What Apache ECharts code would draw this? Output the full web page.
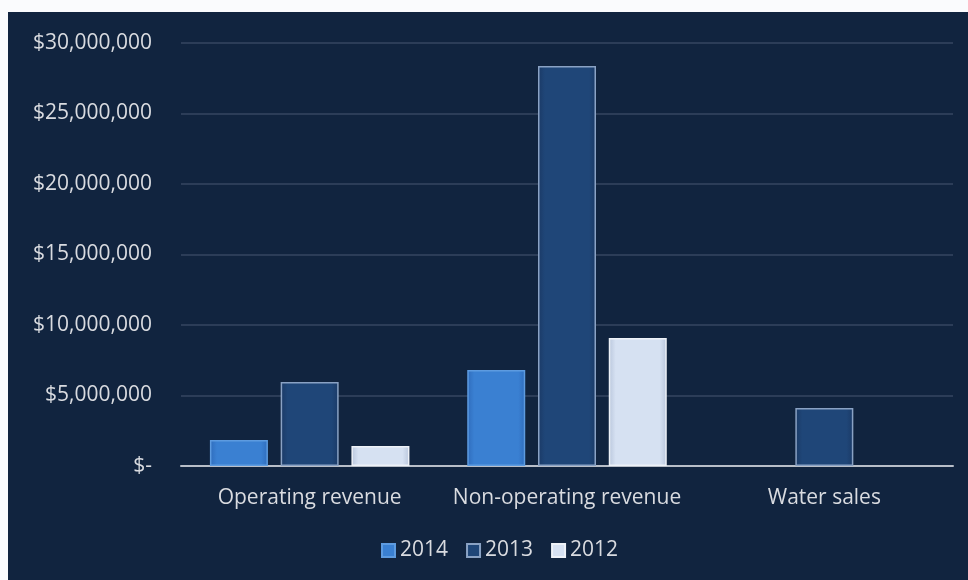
<!DOCTYPE html>
<html>
<head>
<meta charset="utf-8">
<script src="https://cdn.jsdelivr.net/npm/echarts@6/dist/echarts.min.js"></script>
<style>
  html, body { margin: 0; padding: 0; background: #fafbfd; }
  #chart { position: absolute; left: 8px; top: 12px; width: 960px; height: 568px; }
</style>
</head>
<body>
<div id="chart"></div>
<script>
// Revenue by source, three fiscal years
const categories = ['Operating revenue', 'Non-operating revenue', 'Water sales'];
const years = ['2014', '2013', '2012'];
const values2014 = [1840000, 6810000, null];
const values2013 = [5960000, 28370000, 4110000];
const values2012 = [1420000, 9080000, null];
const yTicks = [0, 5000000, 10000000, 15000000, 20000000, 25000000, 30000000];

const textColor = '#d9dbe0';
const fontFamily = '"Open Sans", "Noto Sans", sans-serif';

function fmtMoney(v) {
  if (v === 0) return '$-';
  return '$' + v.toLocaleString('en-US');
}

function barGrad(edge, mid) {
  return new echarts.graphic.LinearGradient(0, 0, 1, 0, [
    { offset: 0, color: edge },
    { offset: 0.12, color: mid },
    { offset: 0.88, color: mid },
    { offset: 1, color: edge }
  ]);
}

const styles = {
  '2014': { color: barGrad('#2f6cbc', '#3a80d2'), border: '#5d9be0' },
  '2013': { color: barGrad('#1b3a66', '#1f4678'), border: '#8aa2c4' },
  '2012': { color: barGrad('#b9c6dc', '#d6e1f2'), border: '#eef2f8' }
};

const seriesData = { '2014': values2014, '2013': values2013, '2012': values2012 };

const chart = echarts.init(document.getElementById('chart'));
chart.setOption({
  backgroundColor: '#11243f',
  animation: false,
  textStyle: { fontFamily: fontFamily },
  grid: { left: 173, right: 15, top: 31, bottom: 114, containLabel: false },
  legend: {
    bottom: 14,
    left: 368,
    itemWidth: 13,
    itemHeight: 13,
    itemGap: 18,
    textStyle: { color: textColor, fontSize: 21, fontFamily: fontFamily },
    data: years.map(y => ({ name: y, icon: 'rect' }))
  },
  xAxis: {
    type: 'category',
    data: categories,
    axisLine: { lineStyle: { color: '#b8bec8', width: 2 } },
    axisTick: { show: false },
    axisLabel: { color: textColor, fontSize: 21, margin: 22, interval: 0 }
  },
  yAxis: {
    type: 'value',
    min: yTicks[0],
    max: yTicks[yTicks.length - 1],
    interval: yTicks[1] - yTicks[0],
    axisLine: { show: false },
    axisTick: { show: false },
    splitLine: { lineStyle: { color: '#2c3d58', width: 2 } },
    axisLabel: { color: textColor, fontSize: 21, margin: 29, formatter: fmtMoney }
  },
  series: years.map(y => ({
    name: y,
    type: 'bar',
    barWidth: 58,
    barGap: '22%',
    data: seriesData[y],
    itemStyle: {
      color: styles[y].color,
      borderColor: styles[y].border,
      borderWidth: 1.5
    }
  }))
});
</script>
</body>
</html>
